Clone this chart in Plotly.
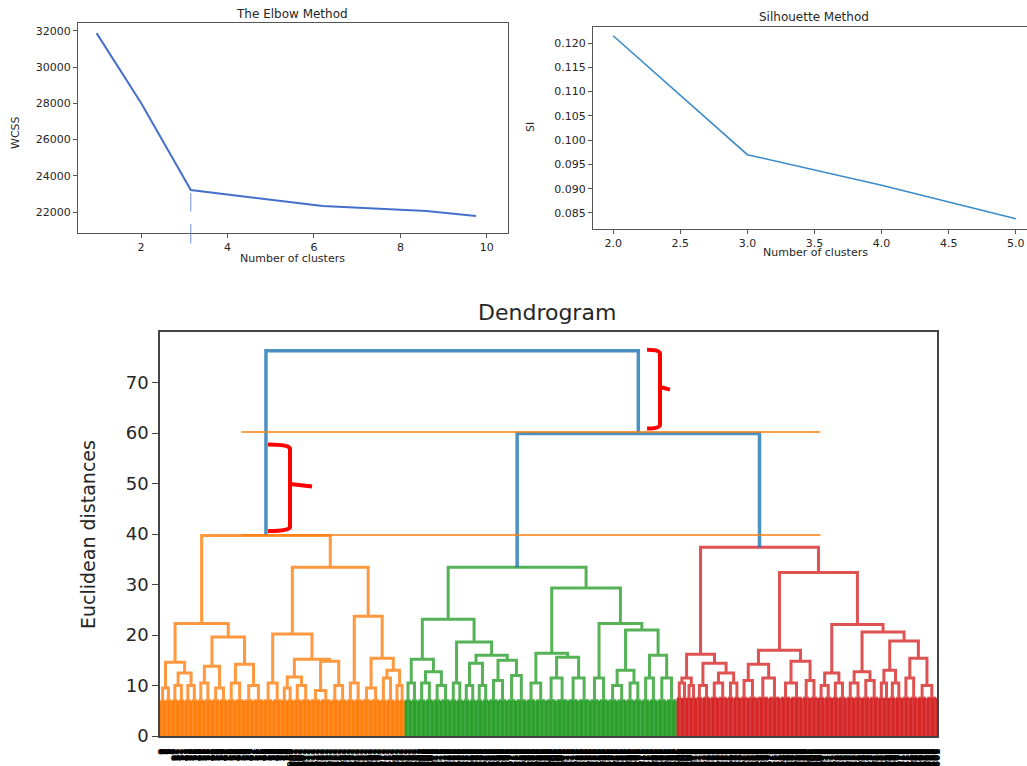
import plotly.graph_objects as go

# ---------------- data ----------------
# Elbow method
elbow_k = [0.97, 2.0, 3.15, 6.2, 8.6, 9.75]
elbow_wcss = [31880, 28020, 23210, 22330, 22050, 21780]
elbow_ticks_x = [2, 4, 6, 8, 10]
elbow_ticks_y = [22000, 24000, 26000, 28000, 30000, 32000]
knee_marker_span = [[0.19, 0.095], [0.043, -0.057]]   # dashed marker, fraction of axis height

# Silhouette method
sil_k = [2.0, 3.0, 4.0, 5.0]
sil_score = [0.1215, 0.0970, 0.0907, 0.0838]
sil_ticks_x = [2.0, 2.5, 3.0, 3.5, 4.0, 4.5, 5.0]
sil_ticks_y = [0.085, 0.090, 0.095, 0.100, 0.105, 0.110, 0.115, 0.120]

# Dendrogram: trees as [height, left, right]; ints index terminal groups
orange_counts = [9, 10, 10, 11, 12, 13, 15, 14, 9, 13, 16, 12, 12, 14, 11, 8]
orange_tops = [9.5, 10.0, 10.0, 10.5, 9.5, 10.5, 10.0, 10.5, 9.5, 10.0, 9.0, 10.0, 10.5, 9.5, 11.5, 10.0]
orange_tree = [39.7,
               [22.3, [14.6, 0, [12.5, 1, 2]], [19.6, [13.8, 3, 4], [14.2, 5, 6]]],
               [33.4, [20.2, 7, [15.2, [11.7, 8, 9], [14.8, 10, 11]]],
                      [23.7, 12, [15.4, 13, [13.0, 14, 15]]]]]

green_counts = [10, 12, 13, 10, 10, 10, 14, 15, 15, 17, 17, 14, 14, 12, 12, 15]
green_tops = [10.5, 10.5, 10.0, 10.5, 10.0, 10.0, 11.0, 12.0, 10.5, 11.5, 11.5, 11.5, 10.0, 10.5, 11.5, 11.5]
green_tree = [33.4,
              [23.1, [15.2, 0, [12.7, 1, 2]], [18.6, 3, [16.0, [14.4, 4, 5], [15.0, 6, 7]]]],
              [29.3, [16.4, 8, [15.6, 9, 10]], [22.3, 11, [21.0, [13.0, 12, 13], [16.0, 14, 15]]]]]

red_counts = [8, 7, 11, 13, 10, 13, 18, 17, 12, 11, 11, 12, 13, 8, 10, 12, 15]
red_tops = [10.5, 10.0, 10.0, 10.5, 10.5, 11.0, 11.5, 10.5, 11.0, 10.0, 10.5, 10.5, 11.0, 10.5, 10.5, 11.5, 10.0]
red_tree = [37.4,
            [16.2, [11.5, 0, 1], [14.4, 2, [12.5, 3, 4]]],
            [32.4, [17.0, [14.2, 5, 6], [14.8, 7, 8]],
                   [22.1, [12.5, 9, 10], [20.6, [12.7, 11, 12], [18.8, [13.0, 13, 14], [15.4, 15, 16]]]]]]

dense_levels = [7.0, 7.0, 7.5]           # top of the solid leaf band per cluster
top_merges = [76.3, 59.9]                # root merge, green+red merge
cut_levels = [60.2, 39.8]                # orange guide lines
cut_x = [63, 510]
dend_ticks_y = [0, 10, 20, 30, 40, 50, 60, 70]

# red braces (annotation): x0, x_vertical, x_tip, y_top, y_tip, y_bottom
braces = [
    [83.4, 100.4, 117.4, 57.7, 49.4, 40.6],
    [376.1, 386.1, 393.8, 76.5, 68.6, 60.9],
]

C_BLUE, C_ORANGE, C_GREEN, C_RED = "#1f77b4", "#ff7f0e", "#2ca02c", "#d62728"

# ---------------- dendrogram geometry via tree walk ----------------
def walk(node, counts, tops, fill, start, links, dense):
    if isinstance(node, int):
        n = counts[node]
        h = tops[node]
        xs = [start + i + 0.5 for i in range(n)]
        for x in xs:
            dense[0] += [x, x, None]
            dense[1] += [0, fill, None]
        left, right = xs[: n // 2], xs[n // 2:]
        for part in (left, right):
            links[0] += [part[0], part[-1], None]
            links[1] += [fill, fill, None]
        cl = sum(left) / len(left)
        cr = sum(right) / len(right)
        links[0] += [cl, cl, cr, cr, None]
        links[1] += [fill, h, h, fill, None]
        return (cl + cr) / 2, h, start + n
    h, L, R = node
    cl, hl, s = walk(L, counts, tops, fill, start, links, dense)
    cr, hr, s = walk(R, counts, tops, fill, s, links, dense)
    links[0] += [cl, cl, cr, cr, None]
    links[1] += [hl, h, h, hr, None]
    return (cl + cr) / 2, h, s

clusters = [
    (orange_tree, orange_counts, orange_tops, dense_levels[0], C_ORANGE),
    (green_tree, green_counts, green_tops, dense_levels[1], C_GREEN),
    (red_tree, red_counts, red_tops, dense_levels[2], C_RED),
]

fig = go.Figure()

start = 0
roots = []
for tree, counts, tops, fill, col in clusters:
    links = [[], []]
    dense = [[], []]
    c, h, start = walk(tree, counts, tops, fill, start, links, dense)
    roots.append((c, h))
    fig.add_trace(go.Scatter(x=dense[0], y=dense[1], mode="lines", xaxis="x3", yaxis="y3",
                             line=dict(color=col, width=1.6), hoverinfo="skip", showlegend=False))
    fig.add_trace(go.Scatter(x=links[0], y=links[1], mode="lines", xaxis="x3", yaxis="y3",
                             line=dict(color=col, width=3), opacity=0.8,
                             hoverinfo="skip", showlegend=False))
n_leaves = start

(co, ho), (cg, hg), (cr, hr) = roots
m = (cg + cr) / 2
bx = [cg, cg, cr, cr, None, co, co, m, m]
by = [hg, top_merges[1], top_merges[1], hr, None, ho, top_merges[0], top_merges[0], top_merges[1]]
fig.add_trace(go.Scatter(x=bx, y=by, mode="lines", xaxis="x3", yaxis="y3",
                         line=dict(color=C_BLUE, width=3.5), opacity=0.8,
                         hoverinfo="skip", showlegend=False))

for lvl in cut_levels:
    fig.add_trace(go.Scatter(x=cut_x, y=[lvl, lvl], mode="lines", xaxis="x3", yaxis="y3",
                             line=dict(color=C_ORANGE, width=1.3), hoverinfo="skip", showlegend=False))

for x0, xv, xt, yt, yp, yb in braces:
    path = (f"M {x0},{yt} Q {xv},{yt} {xv},{yt-0.8} L {xv},{yp+0.5} L {xt},{yp} "
            f"M {xv},{yp+0.5} L {xv},{yb+0.8} Q {xv},{yb} {x0},{yb}")
    fig.add_shape(type="path", path=path, xref="x3", yref="y3",
                  line=dict(color="#ff0000", width=4), fillcolor="rgba(0,0,0,0)")

# elbow & silhouette lines
fig.add_trace(go.Scatter(x=elbow_k, y=elbow_wcss, mode="lines", xaxis="x", yaxis="y",
                         line=dict(color="#4470cc", width=2), showlegend=False))
fig.add_trace(go.Scatter(x=sil_k, y=sil_score, mode="lines", xaxis="x2", yaxis="y2",
                         line=dict(color="#3b8bc8", width=1.6), showlegend=False))

# dashed knee marker (two segments, extends below the axis)
for y_head, y_tail in knee_marker_span:
    fig.add_annotation(x=elbow_k[2], xref="x", y=y_head, yref="y domain",
                       ax=elbow_k[2], axref="x", ay=y_tail, ayref="y domain",
                       text="", showarrow=True, arrowhead=0, arrowwidth=1,
                       arrowcolor="#6f93d8")

W, H = 1027, 766
TXT = "#262626"
small_axis = dict(showline=True, linecolor="#555", linewidth=1, ticks="outside", ticklen=4,
                  tickcolor="#555", showgrid=False, zeroline=False, automargin=False,
                  tickfont=dict(size=11, color=TXT, family="DejaVu Sans"))

leaf_labels = [str(i) for i in range(n_leaves)]

fig.update_layout(
    width=W, height=H, margin=dict(l=0, r=0, t=0, b=0, autoexpand=False),
    paper_bgcolor="white", plot_bgcolor="white",
    font=dict(family="DejaVu Sans", color=TXT),
    xaxis=dict(domain=[78 / W, 508 / W], range=[0.54, 10.49], tickvals=elbow_ticks_x,
               mirror=True, anchor="y", **small_axis),
    yaxis=dict(domain=[1 - 233 / H, 1 - 23 / H], range=[20840, 32440], tickvals=elbow_ticks_y,
               tickformat="d", mirror=True, anchor="x", **small_axis),
    xaxis2=dict(domain=[593 / W, 1.0], range=[1.85, 5.083], tickvals=sil_ticks_x, tickformat=".1f",
                mirror=True, anchor="y2", **small_axis),
    yaxis2=dict(domain=[1 - 229 / H, 1 - 27 / H], range=[0.0817, 0.1233], tickvals=sil_ticks_y,
                tickformat=".3f", mirror=False, anchor="x2", **small_axis),
    xaxis3=dict(domain=[160 / W, 937 / W], range=[0, n_leaves], anchor="y3", automargin=False,
                tickvals=[i + 0.5 for i in range(n_leaves)], ticktext=leaf_labels, tickangle=90,
                tickfont=dict(size=9, color="black", weight="bold"),
                ticks="", ticklabelstandoff=9,
                showline=True, mirror=True, linecolor="#444", linewidth=1.5,
                showgrid=False, zeroline=False),
    yaxis3=dict(domain=[1 - 736 / H, 1 - 332 / H], range=[0, 80], anchor="x3", automargin=False,
                tickvals=dend_ticks_y, tickfont=dict(size=18, color=TXT),
                ticks="outside", ticklen=6, tickcolor="#444",
                showline=True, mirror=True, linecolor="#444", linewidth=1.5,
                showgrid=False, zeroline=False),
)

def label(text, x, y, size, angle=0):
    fig.add_annotation(text=text, x=x / W, y=1 - y / H, xref="paper", yref="paper",
                       showarrow=False, textangle=angle, font=dict(size=size, color=TXT),
                       xanchor="center", yanchor="middle")

label("The Elbow Method", 292, 14, 12)
label("Number of clusters", 292, 258, 11)
label("WCSS", 15, 133, 11, -90)
label("Silhouette Method", 814, 17, 12)
label("Number of clusters", 815, 253, 11)
label("SI", 530, 127, 11, -90)
label("Dendrogram", 547, 312, 22)
label("Euclidean distances", 88, 535, 19, -90)

fig.write_html("out.html")
